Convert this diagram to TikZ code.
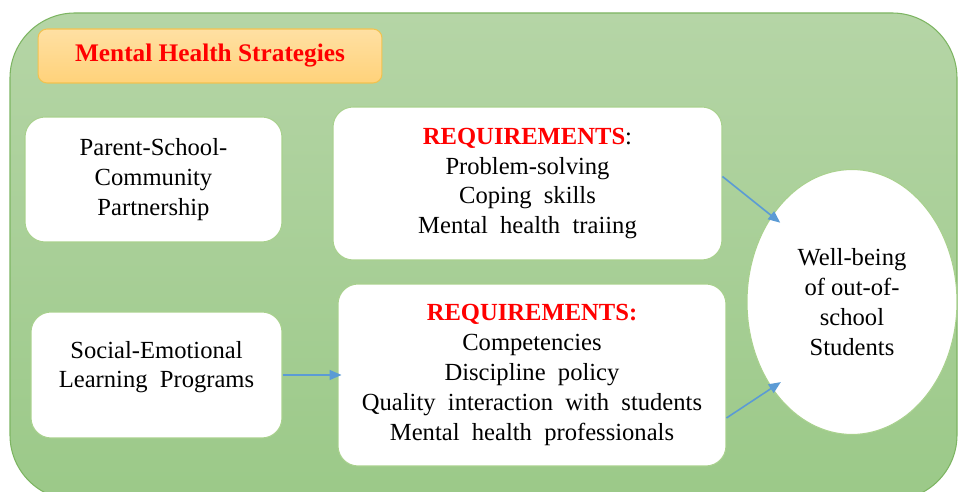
\documentclass[tikz,border=0pt]{standalone}
\usepackage{fontspec}
\setmainfont{Liberation Serif}
\usetikzlibrary{
  positioning,
  shapes.geometric,
  arrows.meta,
}
\definecolor{panelTop}{HTML}{B5D5A6}
\definecolor{panelBot}{HTML}{9BC988}
\definecolor{panelEdge}{HTML}{7DB562}
\definecolor{titleTop}{HTML}{FFE0A3}
\definecolor{titleBot}{HTML}{FFD27A}
\definecolor{titleEdge}{HTML}{F2C24F}
\definecolor{boxEdge}{HTML}{A9D18E}
\definecolor{headRed}{HTML}{FF0000}
\definecolor{arrowCol}{HTML}{5B9BD5}
\tikzset{
  whitebox/.style={
    rectangle, rounded corners=0.4cm, draw=boxEdge, fill=white,
    align=center, line width=0.6pt, inner sep=4pt,
    font=\fontsize{14}{17}\selectfont,
  },
  titlebox/.style={
    rectangle, rounded corners=0.18cm, draw=titleEdge, line width=0.6pt,
    top color=titleTop, bottom color=titleBot,
    minimum width=6.88cm, minimum height=1.08cm,
    font=\fontsize{14.4}{17}\selectfont\bfseries, text=headRed,
  },
  goal/.style={
    ellipse, draw=boxEdge, fill=white, line width=0.6pt, align=center,
    minimum width=4.2cm, minimum height=5.3cm, inner sep=0pt,
    font=\fontsize{14}{17}\selectfont,
  },
  arrow/.style={-{Triangle[length=0.24cm, width=0.2cm]}, arrowCol, line width=0.9pt},
}

\begin{document}
\begin{tikzpicture}[x=0.02cm, y=-0.02cm]

  \useasboundingbox (0,0) rectangle (958,492);

  % Green panel
  \shade[top color=panelTop, bottom color=panelBot, draw=panelEdge, line width=0.6pt,
    rounded corners=1.3cm] (10,13) rectangle (957,500);

  % Title
  \node[titlebox] (title) at (210,56) {Mental Health Strategies};

  % Strategy boxes
  \node[whitebox, minimum width=5.14cm, minimum height=2.5cm] (psc) at (153.5,179.5)
    {Parent-School-\\Community\\Partnership};
  \node[whitebox, minimum width=5.02cm, minimum height=2.52cm] (sel) at (156.5,375)
    {Social-Emotional\\Learning\ \ Programs\\[-5pt]\mbox{}};

  % Requirement boxes
  \node[whitebox, minimum width=7.78cm, minimum height=3.06cm] (req1) at (527.5,183.5)
    {\textcolor{headRed}{\bfseries REQUIREMENTS}:\\Problem-solving\\Coping\ \ skills\\Mental\ \ health\ \ traiing};
  \node[whitebox, minimum width=7.76cm, minimum height=3.64cm] (req2) at (532,375)
    {\textcolor{headRed}{\bfseries REQUIREMENTS:}\\Competencies\\Discipline\ \ policy\\Quality\ \ interaction\ \ with\ \ students\\Mental\ \ health\ \ professionals};

  % Outcome
  \node[goal] (well) at (852,302) {Well-being\\of out-of-\\school\\Students};

  % Links
  \draw[arrow, shorten >=-0.22cm] ([yshift=0.14cm]req1.east) -- (well.133);
  \draw[arrow, shorten >=-0.08cm] (sel.east) -- (req2.west);
  \draw[arrow, shorten >=-0.22cm] ([yshift=-0.86cm]req2.east) -- (well.227);

\end{tikzpicture}
\end{document}
